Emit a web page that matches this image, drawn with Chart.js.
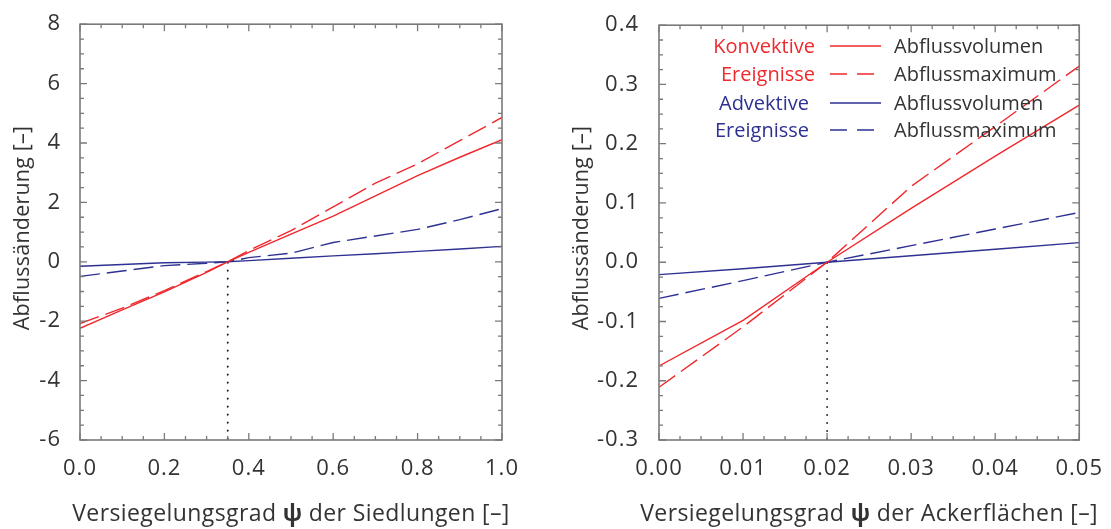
<!DOCTYPE html>
<html>
<head>
<meta charset="utf-8">
<script src="https://cdn.jsdelivr.net/npm/chart.js@4/dist/chart.umd.min.js"></script>
<style>
  html,body{margin:0;padding:0;background:#fff;}
  #wrap{position:relative;width:1111px;height:529px;overflow:hidden;}
  .box{position:absolute;top:0;height:529px;}
</style>
</head>
<body>
<div id="wrap">
  <div class="box" style="left:0;width:555px;"><canvas id="c1"></canvas></div>
  <div class="box" style="left:555px;width:556px;"><canvas id="c2"></canvas></div>
</div>
<script>
// ---------- DATA ----------
// Left panel: Versiegelungsgrad der Siedlungen
const psiSied = [0.0, 0.1, 0.2, 0.3, 0.35, 0.4, 0.5, 0.6, 0.7, 0.8, 0.9, 1.0];
const sKonvVol = [-2.24, -1.62, -1.01, -0.36, 0, 0.32, 0.93, 1.54, 2.22, 2.90, 3.52, 4.11];
const sKonvMax = [-2.08, -1.56, -0.97, -0.33, 0, 0.38, 1.05, 1.85, 2.65, 3.30, 4.08, 4.86];
const sAdvVol  = [-0.15, -0.09, -0.03, -0.01, 0, 0.04, 0.12, 0.20, 0.27, 0.35, 0.43, 0.52];
const sAdvMax  = [-0.49, -0.31, -0.13, -0.05, 0, 0.14, 0.29, 0.65, 0.87, 1.09, 1.42, 1.79];
const sRefX = [0.35, 0.35];
const sRefY = [0, -6];

// Right panel: Versiegelungsgrad der Ackerflächen
const psiAcker = [0.00, 0.01, 0.02, 0.03, 0.04, 0.05];
const aKonvVol = [-0.175, -0.098, 0, 0.091, 0.179, 0.265];
const aKonvMax = [-0.211, -0.109, 0, 0.128, 0.229, 0.331];
const aAdvVol  = [-0.021, -0.011, 0, 0.011, 0.022, 0.033];
const aAdvMax  = [-0.061, -0.031, 0, 0.028, 0.056, 0.084];
const aRefX = [0.02, 0.02];
const aRefY = [0, -0.3];

// Axis ticks
const sXTicks = [0.0, 0.2, 0.4, 0.6, 0.8, 1.0];
const sYTicks = [-6, -4, -2, 0, 2, 4, 6, 8];
const aXTicks = [0.00, 0.01, 0.02, 0.03, 0.04, 0.05];
const aYTicks = [-0.3, -0.2, -0.1, 0.0, 0.1, 0.2, 0.3, 0.4];

// Texts
const yTitle = 'Abflussänderung [–]';
const xTitleLeft = ['Versiegelungsgrad ', 'ψ', ' der Siedlungen [–]'];
const xTitleRight = ['Versiegelungsgrad ', 'ψ', ' der Ackerflächen [–]'];
const legendGroups = [['Konvektive', 'Ereignisse'], ['Advektive', 'Ereignisse']];
const legendItems = ['Abflussvolumen', 'Abflussmaximum', 'Abflussvolumen', 'Abflussmaximum'];

// ---------- STYLE ----------
const RED = '#f0282d';
const BLUE = '#2e3192';
const TXT = '#333333';
const FONT = "'Open Sans', 'Noto Sans', sans-serif";
const DASH = [20, 7];

function pts(xs, ys) { return xs.map((x, i) => ({x: x, y: ys[i]})); }

function mkDatasets(xs, kv, km, av, am, rx, ry) {
  const base = {borderWidth: 1.4, pointRadius: 0, fill: false, tension: 0};
  return [
    Object.assign({}, base, {label: 'Konvektive Abflussvolumen', data: pts(xs, kv), borderColor: RED}),
    Object.assign({}, base, {label: 'Konvektive Abflussmaximum', data: pts(xs, km), borderColor: RED, borderDash: DASH}),
    Object.assign({}, base, {label: 'Advektive Abflussvolumen', data: pts(xs, av), borderColor: BLUE}),
    Object.assign({}, base, {label: 'Advektive Abflussmaximum', data: pts(xs, am), borderColor: BLUE, borderDash: DASH}),
    Object.assign({}, base, {label: 'ref', data: pts(rx, ry), borderColor: '#000', borderWidth: 1.6, borderDash: [1.6, 6.4]})
  ];
}

// letter spacing for tick labels
const spacing = {
  id: 'spacing',
  beforeLayout(chart) { chart.ctx.letterSpacing = '1px'; },
  beforeDraw(chart) { chart.ctx.letterSpacing = '1px'; }
};

// Frame with inward ticks on all four sides
const frameTicks = {
  id: 'frameTicks',
  afterDatasetsDraw(chart, args, o) {
    const {ctx, chartArea: a} = chart;
    const xs = chart.scales.x, ys = chart.scales.y;
    ctx.save();
    ctx.strokeStyle = '#7a7a7a';
    ctx.lineWidth = 1.3;
    const run = (scale, minor, major, horiz) => {
      const n = Math.round((scale.max - scale.min) / minor);
      const per = Math.round(major / minor);
      for (let i = 0; i <= n; i++) {
        const p = scale.getPixelForValue(scale.min + i * minor);
        const len = (i % per === 0) ? 7 : 4;
        ctx.beginPath();
        if (horiz) {
          ctx.moveTo(p, a.bottom); ctx.lineTo(p, a.bottom - len);
          ctx.moveTo(p, a.top); ctx.lineTo(p, a.top + len);
        } else {
          ctx.moveTo(a.left, p); ctx.lineTo(a.left + len, p);
          ctx.moveTo(a.right, p); ctx.lineTo(a.right - len, p);
        }
        ctx.stroke();
      }
    };
    run(xs, o.xMinor, o.xMajor, true);
    run(ys, o.yMinor, o.yMajor, false);
    ctx.lineWidth = 1.6;
    ctx.strokeRect(a.left, a.top, a.right - a.left, a.bottom - a.top);
    ctx.restore();
  }
};

// Axis titles
const titles = {
  id: 'titles',
  afterDraw(chart, args, o) {
    const {ctx, chartArea: a} = chart;
    ctx.save();
    ctx.fillStyle = TXT;
    ctx.textBaseline = 'alphabetic';
    ctx.letterSpacing = '0.4px';
    const parts = o.xParts;
    const fonts = ['400 23px ' + FONT, '700 23px ' + FONT, '400 23px ' + FONT];
    const widths = parts.map((p, i) => { ctx.font = fonts[i]; return ctx.measureText(p).width; });
    const total = widths.reduce((s, w) => s + w, 0);
    let x = (a.left + a.right) / 2 - total / 2;
    parts.forEach((p, i) => {
      ctx.font = fonts[i]; ctx.textAlign = 'left';
      ctx.fillText(p, x, o.xBase);
      x += widths[i];
    });
    ctx.letterSpacing = '0.2px';
    ctx.font = '400 21.5px ' + FONT;
    ctx.translate(o.yX, o.yCenter);
    ctx.rotate(-Math.PI / 2);
    ctx.textAlign = 'center';
    ctx.textBaseline = 'middle';
    ctx.fillText(yTitle, 0, 0);
    ctx.restore();
  }
};

// Legend (right panel)
const legendBox = {
  id: 'legendBox',
  afterDraw(chart, args, o) {
    if (!o.show) return;
    const ctx = chart.ctx;
    ctx.save();
    ctx.letterSpacing = '0px';
    ctx.font = '400 20px ' + FONT;
    ctx.textBaseline = 'alphabetic';
    const base = [53, 81, 110, 137];
    const groupRight = [260, 254];
    const colors = [RED, BLUE];
    for (let g = 0; g < 2; g++) {
      ctx.fillStyle = colors[g];
      ctx.textAlign = 'right';
      ctx.fillText(legendGroups[g][0], groupRight[g], base[g * 2]);
      ctx.fillText(legendGroups[g][1], groupRight[g], base[g * 2 + 1]);
    }
    for (let i = 0; i < 4; i++) {
      const col = i < 2 ? RED : BLUE;
      const dashed = i % 2 === 1;
      ctx.strokeStyle = col;
      ctx.lineWidth = 1.5;
      ctx.setLineDash(dashed ? [17, 10] : []);
      ctx.beginPath();
      ctx.moveTo(275, base[i] - 7);
      ctx.lineTo(dashed ? 322 : 326, base[i] - 7);
      ctx.stroke();
      ctx.fillStyle = TXT;
      ctx.textAlign = 'left';
      ctx.fillText(legendItems[i], 339, base[i]);
    }
    ctx.restore();
  }
};

function mkChart(id, cfg) {
  const fixTicks = (list) => (scale) => { scale.ticks = list.map(v => ({value: v})); };
  return new Chart(document.getElementById(id), {
    type: 'line',
    data: {datasets: mkDatasets(cfg.xs, cfg.kv, cfg.km, cfg.av, cfg.am, cfg.rx, cfg.ry)},
    plugins: [spacing, frameTicks, titles, legendBox],
    options: {
      responsive: true,
      maintainAspectRatio: false,
      animation: false,
      events: [],
      layout: {padding: {top: 19, right: cfg.padRight, left: 0, bottom: 0}},
      plugins: {
        legend: {display: false},
        tooltip: {enabled: false},
        frameTicks: cfg.frame,
        titles: cfg.titles,
        legendBox: {show: cfg.legend}
      },
      scales: {
        x: {
          type: 'linear',
          min: cfg.xTicks[0], max: cfg.xTicks[cfg.xTicks.length - 1],
          afterBuildTicks: fixTicks(cfg.xTicks),
          afterFit: (s) => { s.height = 89; },
          grid: {display: false},
          border: {display: false},
          ticks: {
            color: TXT, padding: 8,
            font: {family: FONT, size: 22},
            maxRotation: 0, autoSkip: false,
            callback: (v) => Number(v).toFixed(cfg.xDec)
          }
        },
        y: {
          type: 'linear',
          min: cfg.yTicks[0], max: cfg.yTicks[cfg.yTicks.length - 1],
          afterBuildTicks: fixTicks(cfg.yTicks),
          afterFit: (s) => { s.width = cfg.yWidth; },
          grid: {display: false},
          border: {display: false},
          ticks: {
            color: TXT, padding: cfg.yPad,
            font: {family: FONT, size: 22},
            autoSkip: false,
            callback: (v) => Number(v).toFixed(cfg.yDec)
          }
        }
      }
    }
  });
}

mkChart('c1', {
  xs: psiSied, kv: sKonvVol, km: sKonvMax, av: sAdvVol, am: sAdvMax, rx: sRefX, ry: sRefY,
  xTicks: sXTicks, yTicks: sYTicks, xDec: 1, yDec: 0,
  yWidth: 80, yPad: 11, padRight: 53,
  frame: {xMinor: 0.05, xMajor: 0.2, yMinor: 0.5, yMajor: 2},
  titles: {xParts: xTitleLeft, xBase: 521, yX: 23, yCenter: 228},
  legend: false
});
mkChart('c2', {
  xs: psiAcker, kv: aKonvVol, km: aKonvMax, av: aAdvVol, am: aAdvMax, rx: aRefX, ry: aRefY,
  xTicks: aXTicks, yTicks: aYTicks, xDec: 2, yDec: 1,
  yWidth: 104, yPad: 12, padRight: 30,
  frame: {xMinor: 0.0025, xMajor: 0.01, yMinor: 0.025, yMajor: 0.1},
  titles: {xParts: xTitleRight, xBase: 521, yX: 27, yCenter: 228},
  legend: true
});
</script>
</body>
</html>
